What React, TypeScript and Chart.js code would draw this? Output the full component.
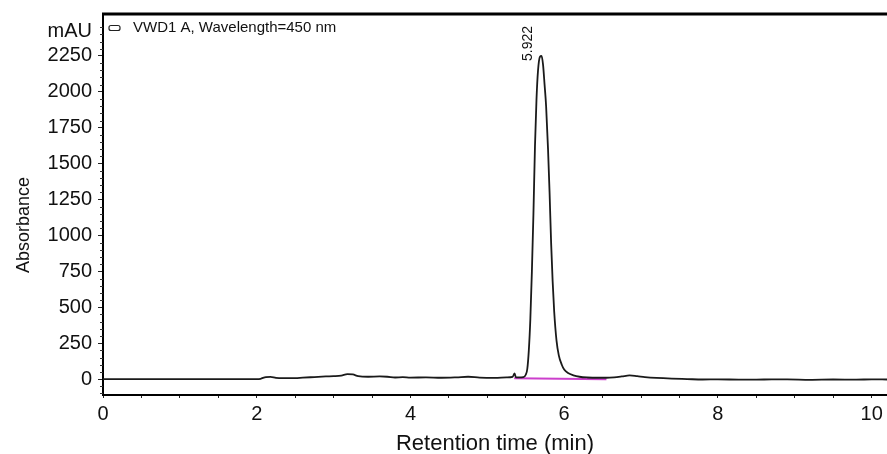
import React, { useEffect, useRef } from "react";
import { Chart, registerables } from "chart.js";

Chart.register(...registerables);

// ---- data ----
const retentionTime = [
  0, 1.0, 2.0, 2.05, 2.12, 2.18, 2.25, 2.35, 2.5, 2.6, 2.75, 2.9, 3.0, 3.1, 3.18, 3.25,
  3.32, 3.45, 3.6, 3.7, 3.8, 3.9, 4.0, 4.2, 4.4, 4.6, 4.75, 4.9, 5.1, 5.25, 5.33, 5.355,
  5.37, 5.4, 5.47, 5.5, 5.52, 5.54, 5.56, 5.58, 5.6, 5.62, 5.64, 5.66, 5.685, 5.705,
  5.725, 5.745, 5.765, 5.79, 5.81, 5.83, 5.85, 5.87, 5.9, 5.93, 5.97, 6.0, 6.05, 6.12,
  6.2, 6.3, 6.45, 6.55, 6.65, 6.75, 6.85, 6.95, 7.05, 7.2, 7.4, 7.6, 7.8, 8.0, 8.3, 8.6,
  8.9, 9.2, 9.5, 9.8, 10.0, 10.2,
];
const absorbance = [
  0, 0, 0, 2, 14, 15, 8, 6, 7, 10, 14, 18, 20, 24, 34, 32,
  20, 16, 18, 16, 11, 13, 10, 12, 9, 12, 16, 10, 8, 12, 16, 40,
  14, 12, 14, 30, 70, 200, 420, 750, 1150, 1620, 1950, 2150, 2245, 2250,
  2190, 2050, 1900, 1600, 1300, 950, 680, 470, 270, 165, 98, 66, 42, 26,
  16, 11, 9, 9, 12, 18, 25, 20, 14, 8, 3, 0, -3, -2, -4, -3,
  -2, -5, -3, -4, -2, -3,
];
const baselineTime = [5.35, 6.55];
const baselineValue = [6, -1];

const xTickValues = [0, 2, 4, 6, 8, 10];
const yTickValues = [0, 250, 500, 750, 1000, 1250, 1500, 1750, 2000, 2250];

const peakTime = 5.705;
const peakValue = 2250;
const peakLabel = "5.922";
const seriesName = "VWD1 A, Wavelength=450 nm";
const yUnit = "mAU";
const xTitle = "Retention time (min)";
const yTitle = "Absorbance";

const FONT = "'Liberation Sans', Arial, Helvetica, sans-serif";

const decorPlugin = {
  id: "decor",
  afterDraw(chart: any) {
    const { ctx, chartArea, scales } = chart;
    const xs = scales.x;
    const ys = scales.y;
    ctx.save();
    // top frame line
    ctx.strokeStyle = "#000";
    ctx.lineWidth = 3;
    ctx.beginPath();
    ctx.moveTo(chartArea.left - 1, chartArea.top);
    ctx.lineTo(chartArea.right, chartArea.top);
    ctx.stroke();

    // minor y ticks
    ctx.lineWidth = 1;
    ctx.strokeStyle = "#333";
    for (let v = -100; v <= 2500; v += 50) {
      if (v % 250 === 0) continue;
      const py = Math.round(ys.getPixelForValue(v)) + 0.5;
      ctx.beginPath();
      ctx.moveTo(chartArea.left - 3, py);
      ctx.lineTo(chartArea.left, py);
      ctx.stroke();
    }

    // unit label
    ctx.fillStyle = "#111";
    ctx.font = `20px ${FONT}`;
    ctx.textAlign = "right";
    ctx.textBaseline = "middle";
    ctx.fillText(yUnit, chartArea.left - 11, chartArea.top + 17);

    // y axis title
    ctx.save();
    ctx.translate(24, 225);
    ctx.rotate(-Math.PI / 2);
    ctx.font = `18px ${FONT}`;
    ctx.textAlign = "center";
    ctx.textBaseline = "middle";
    ctx.fillText(yTitle, 0, 0);
    ctx.restore();

    // legend
    const lx = chartArea.left + 6;
    const ly = chartArea.top + 14;
    ctx.strokeStyle = "#222";
    ctx.lineWidth = 1.2;
    ctx.fillStyle = "#fff";
    ctx.beginPath();
    if (ctx.roundRect) ctx.roundRect(lx, ly - 2.5, 11, 5, 2);
    else ctx.rect(lx, ly - 2.5, 11, 5);
    ctx.fill();
    ctx.stroke();
    ctx.fillStyle = "#111";
    ctx.font = `15px ${FONT}`;
    ctx.textAlign = "left";
    ctx.textBaseline = "middle";
    ctx.fillText(seriesName, lx + 24, ly);

    // peak label
    const px = xs.getPixelForValue(peakTime);
    const py = ys.getPixelForValue(peakValue);
    ctx.translate(px - 13, py + 5);
    ctx.rotate(-Math.PI / 2);
    ctx.font = `14px ${FONT}`;
    ctx.textAlign = "left";
    ctx.textBaseline = "middle";
    ctx.fillText(peakLabel, 0, 0);
    ctx.restore();
  },
};

export default function App() {
  const canvasRef = useRef<HTMLCanvasElement | null>(null);

  useEffect(() => {
    const canvas = canvasRef.current;
    if (!canvas) return;
    const trace = retentionTime.map((t, i) => ({ x: t, y: absorbance[i] }));
    const baseline = baselineTime.map((t, i) => ({ x: t, y: baselineValue[i] }));

    const chart = new Chart(canvas, {
      type: "line",
      data: {
        datasets: [
          {
            label: seriesName,
            data: trace,
            borderColor: "#1a1a1a",
            borderWidth: 1.8,
            pointRadius: 0,
            cubicInterpolationMode: "monotone",
            fill: false,
          },
          {
            label: "baseline",
            data: baseline,
            borderColor: "#cc3fcc",
            borderWidth: 2,
            pointRadius: 0,
            fill: false,
          },
        ],
      },
      options: {
        animation: false,
        responsive: true,
        maintainAspectRatio: false,
        layout: { padding: { top: 14, right: 0, bottom: 0, left: 0 } },
        plugins: {
          legend: { display: false },
          tooltip: { enabled: false },
          title: { display: false },
        },
        scales: {
          x: {
            type: "linear",
            min: 0,
            max: 10.2,
            afterBuildTicks: (scale: any) => {
              const ticks = [];
              for (let v = 0; v <= 10; v += 0.5) ticks.push({ value: v });
              scale.ticks = ticks;
            },
            afterFit: (scale: any) => {
              scale.height = 59;
              scale.paddingRight = 0;
              scale.paddingLeft = 0;
            },
            ticks: {
              autoSkip: false,
              maxRotation: 0,
              padding: 4,
              color: "#111",
              font: { family: FONT, size: 20 },
              callback: (v: any) => (xTickValues.includes(Number(v)) ? String(v) : ""),
            },
            grid: { drawOnChartArea: false, drawTicks: true, tickLength: 3, color: "#222" },
            border: { display: true, color: "#000", width: 2 },
            title: {
              display: true,
              text: xTitle,
              color: "#111",
              font: { family: FONT, size: 22 },
              padding: { top: 0, bottom: -3 },
            },
          },
          y: {
            type: "linear",
            min: -111,
            max: 2542,
            afterBuildTicks: (scale: any) => {
              scale.ticks = yTickValues.map((v) => ({ value: v }));
            },
            afterFit: (scale: any) => {
              scale.width = 103;
              scale.paddingTop = 0;
              scale.paddingBottom = 0;
            },
            ticks: {
              autoSkip: false,
              padding: 6,
              color: "#111",
              font: { family: FONT, size: 20 },
              callback: (v: any) => String(v),
            },
            grid: { drawOnChartArea: false, drawTicks: true, tickLength: 5, color: "#222" },
            border: { display: true, color: "#000", width: 2 },
            title: { display: false },
          },
        },
      },
      plugins: [decorPlugin],
    });
    return () => chart.destroy();
  }, []);

  return (
    <div style={{ position: "absolute", left: 0, top: 0, width: 887, height: 454, background: "#fff" }}>
      <canvas ref={canvasRef} />
    </div>
  );
}
